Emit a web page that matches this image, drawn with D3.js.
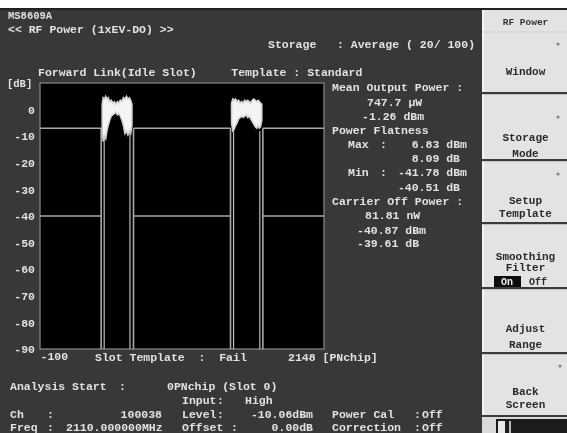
<!DOCTYPE html>
<html><head><meta charset="utf-8">
<script src="https://cdn.jsdelivr.net/npm/d3@7"></script>
<style>html,body{margin:0;padding:0;background:#fff;overflow:hidden} svg{display:block}</style>
</head><body>
<svg id="c" width="567" height="433"></svg>
<script>
// ---------------- data ----------------
const xDomain = [-100, 2148];            // PN chips
const yDomain = [-90, 10];               // dB
const yTickValues = [0, -10, -20, -30, -40, -50, -60, -70, -80, -90];
const yTickLabels = ["0", "-10", "-20", "-30", "-40", "-50", "-60", "-70", "-80", "-90"];
const xTickValues = [-100];
const xTickLabels = ["-100"];
const templateUpperLevel = -7;
const templateLowerLevel = -40;
const templateWindows = [[384, 640], [1408, 1664]];
const traceEdges = [[408, 612], [1432, 1640]];

const burst1Chips = [392,400,410,420,430,440,452,464,476,488,500,512,524,536,548,560,572,584,596,608,618,628];
const burst1Max   = [2,4.5,4,5,4,4.5,3,3.5,2.5,3,2,3,2.5,3.5,3,4.5,4,5,4,4.5,3.5,2];
const burst1Min   = [-8,-12,-10,-11,-8,-6,-4,-2.5,-2,-1.5,-1,-2,-1.5,-2.5,-4,-6,-9,-8,-9.5,-8,-9,-6];

const burst2Chips = [1416,1426,1436,1448,1460,1472,1484,1496,1508,1520,1532,1544,1556,1568,1580,1592,1604,1616,1626,1636,1646,1656];
const burst2Max   = [2.5,4,3.5,4,3,3.5,2.5,3,2.5,3.5,3,3.5,3,2.5,3.5,4,3.5,3,3.5,3,2.5,2];
const burst2Min   = [-5,-8,-7.5,-6,-5,-3.5,-3,-2.5,-3,-2.5,-2,-3,-2.5,-3.5,-4.5,-5.5,-6.5,-7,-6,-7,-6.5,-4];

const headerLines = ["MS8609A", "<< RF Power (1xEV-DO) >>"];
const storageText = "Storage   : Average ( 20/ 100)";
const titleText = "Forward Link(Idle Slot)     Template : Standard";
const resultLabel = ["Mean Output Power :", "Power Flatness", "Carrier Off Power :"];
const meanPower = ["747.7 µW", "-1.26 dBm"];
const flatMax = ["Max", ":", "6.83 dBm", "8.09 dB"];
const flatMin = ["Min", ":", "-41.78 dBm", "-40.51 dB"];
const carrierOff = ["81.81 nW", "-40.87 dBm", "-39.61 dB"];
const judgeText = "Slot Template  :  Fail";
const xUnitText = "2148 [PNchip]";
const softkeys = [["Window"], ["Storage", "Mode"], ["Setup", "Template"], ["Smoothing", "Filter"], ["Adjust", "Range"], ["Back", "Screen"]];

// ---------------- drawing ----------------
const svg = d3.select("#c");
const FONT = "'Liberation Mono','DejaVu Sans Mono',monospace";
const TXT = "#e2e2e2";
const root = svg.append("g").attr("filter", "url(#soft)");
const defs = svg.append("defs");
defs.append("filter").attr("id", "soft").attr("x", 0).attr("y", 0).attr("width", 1).attr("height", 1)
  .append("feGaussianBlur").attr("stdDeviation", 0.45);

// backgrounds
root.append("rect").attr("x", 0).attr("y", 0).attr("width", 567).attr("height", 433).attr("fill", "#ffffff");
root.append("rect").attr("x", 0).attr("y", 8).attr("width", 567).attr("height", 2).attr("fill", "#222");
root.append("rect").attr("x", 0).attr("y", 10).attr("width", 482).attr("height", 423).attr("fill", "#373737");

function t(g, x, y, s, o = {}) {
  return g.append("text").attr("x", x).attr("y", y).text(s)
    .attr("font-family", FONT).attr("font-weight", "bold")
    .attr("font-size", o.size || 11.5).attr("fill", o.fill || TXT)
    .attr("text-anchor", o.anchor || "start").attr("dominant-baseline", "middle")
    .attr("xml:space", "preserve").style("white-space", "pre");
}

// header
t(root, 8, 16, headerLines[0], {size: 10.5});
t(root, 8, 30, headerLines[1]);
t(root, 268, 45, storageText);
t(root, 38, 73, titleText);

// plot
const L = 40, R = 324, T = 83, B = 349;
const x = d3.scaleLinear().domain(xDomain).range([L, R]);
const y = d3.scaleLinear().domain(yDomain).range([B, T]);
const plot = root.append("g");
plot.append("rect").attr("x", L).attr("y", T).attr("width", R - L).attr("height", B - T)
  .attr("fill", "#000").attr("stroke", "#8a8a8a").attr("stroke-width", 1.2);
const clip = defs.append("clipPath").attr("id", "pc");
clip.append("rect").attr("x", L).attr("y", T).attr("width", R - L).attr("height", B - T);
const inner = plot.append("g").attr("clip-path", "url(#pc)");

// template lines
const segs = [];
const bounds = [xDomain[0]].concat(templateWindows.flat()).concat([xDomain[1]]);
for (let i = 0; i < bounds.length; i += 2) {
  segs.push([[bounds[i], templateUpperLevel], [bounds[i + 1], templateUpperLevel]]);
  segs.push([[bounds[i], templateLowerLevel], [bounds[i + 1], templateLowerLevel]]);
}
templateWindows.forEach(w => w.forEach(c => segs.push([[c, templateUpperLevel], [c, yDomain[0]]])));
const line = d3.line().x(d => x(d[0])).y(d => y(d[1]));
inner.selectAll("path.tpl").data(segs).join("path").attr("class", "tpl")
  .attr("d", line).attr("fill", "none").attr("stroke", "#a8a8a8").attr("stroke-width", 1.6);

// trace
const bursts = [
  {c: burst1Chips, mx: burst1Max, mn: burst1Min, e: traceEdges[0]},
  {c: burst2Chips, mx: burst2Max, mn: burst2Min, e: traceEdges[1]}
];
bursts.forEach(b => {
  b.e.forEach(c => {
    const pts = [[c, yDomain[0]], [c, -8]];
    inner.append("path").attr("d", line(pts)).attr("fill", "none").attr("stroke", "#bdbdbd").attr("stroke-width", 1.2);
  });
  const data = b.c.map((c, i) => ({c, hi: b.mx[i], lo: b.mn[i]}));
  const area = d3.area().x(d => x(d.c)).y0(d => y(d.lo)).y1(d => y(d.hi));
  inner.append("path").attr("d", area(data)).attr("fill", "#f4f4f4").attr("stroke", "#d0d0d0").attr("stroke-width", 1.5);
});

// y axis
const yAxis = d3.axisLeft(y).tickValues(yTickValues).tickSize(0).tickPadding(5)
  .tickFormat((d, i) => yTickLabels[i]);
const ya = root.append("g").attr("transform", `translate(${L},0)`).call(yAxis);
ya.select(".domain").remove();
ya.selectAll("text").attr("font-family", FONT).attr("font-weight", "bold").attr("font-size", 11.5).attr("fill", TXT);
t(root, 7, 84, "[dB]", {size: 10.5});

// x axis
const xAxis = d3.axisBottom(x).tickValues(xTickValues).tickSize(0).tickPadding(3)
  .tickFormat((d, i) => xTickLabels[i]);
const xa = root.append("g").attr("transform", `translate(0,${B})`).call(xAxis);
xa.select(".domain").remove();
xa.selectAll("text").attr("font-family", FONT).attr("font-weight", "bold").attr("font-size", 11.5)
  .attr("fill", TXT).attr("text-anchor", "start");
t(root, 95, 358, judgeText);
t(root, x(xDomain[1]) - 36, 358, xUnitText);

// results
t(root, 332, 88, resultLabel[0]);
t(root, 367, 103, meanPower[0]);
t(root, 362, 117, meanPower[1]);
t(root, 332, 131, resultLabel[1]);
t(root, 348, 145, flatMax[0]); t(root, 380, 145, flatMax[1]);
t(root, 467, 145, flatMax[2], {anchor: "end"});
t(root, 460, 159, flatMax[3], {anchor: "end"});
t(root, 348, 173, flatMin[0]); t(root, 380, 173, flatMin[1]);
t(root, 467, 173, flatMin[2], {anchor: "end"});
t(root, 460, 188, flatMin[3], {anchor: "end"});
t(root, 332, 202, resultLabel[2]);
t(root, 365, 216, carrierOff[0]);
t(root, 357, 231, carrierOff[1]);
t(root, 357, 244, carrierOff[2]);

// bottom parameter area
t(root, 10, 387, "Analysis Start");
t(root, 119, 387, ":");
t(root, 167, 387, "0PNchip (Slot 0)");
t(root, 182, 401, "Input");
t(root, 217, 401, ":");
t(root, 245, 401, "High");
t(root, 10, 415, "Ch");
t(root, 47, 415, ":");
t(root, 162, 415, "100038", {anchor: "end"});
t(root, 182, 415, "Level");
t(root, 217, 415, ":");
t(root, 313, 415, "-10.06dBm", {anchor: "end"});
t(root, 332, 415, "Power Cal");
t(root, 414, 415, ":");
t(root, 422, 415, "Off");
t(root, 10, 428, "Freq");
t(root, 47, 428, ":");
t(root, 66, 428, "2110.000000MHz");
t(root, 182, 428, "Offset");
t(root, 231, 428, ":");
t(root, 313, 428, "0.00dB", {anchor: "end"});
t(root, 332, 428, "Correction");
t(root, 414, 428, ":");
t(root, 422, 428, "Off");

// softkey panel
const P0 = 482, PW = 85, PC = P0 + PW / 2 + 1;
const panel = root.append("g");
panel.append("rect").attr("x", P0).attr("y", 10).attr("width", PW).attr("height", 423).attr("fill", "#e3e3e3");
panel.append("rect").attr("x", P0).attr("y", 10).attr("width", 2).attr("height", 423).attr("fill", "#f4f4f4");
t(panel, PC, 22, "RF Power", {size: 9.5, fill: "#333", anchor: "middle"});
panel.append("line").attr("x1", P0).attr("x2", 567).attr("y1", 32).attr("y2", 32).attr("stroke", "#cfcfcf");
const sepY = [93, 160, 223, 288, 353, 416];
sepY.forEach(v => panel.append("rect").attr("x", P0).attr("y", v - 1).attr("width", PW).attr("height", 2.2).attr("fill", "#3a3a3a"));
const labY = [[72], [138, 154], [201, 214], [257, 268], [329, 345], [392, 405]];
softkeys.forEach((k, i) => k.forEach((s, j) => t(panel, PC, labY[i][j], s, {size: 11, fill: "#2a2a2a", anchor: "middle"})));
[[558, 44], [558, 117], [558, 174], [560, 366]].forEach(p =>
  panel.append("circle").attr("cx", p[0]).attr("cy", p[1]).attr("r", 1.6).attr("fill", "#888"));
panel.append("rect").attr("x", 494).attr("y", 276).attr("width", 27).attr("height", 11).attr("fill", "#111");
t(panel, 507, 282, "On", {size: 10, fill: "#eee", anchor: "middle"});
t(panel, 538, 282, "Off", {size: 10, fill: "#2a2a2a", anchor: "middle"});
// page indicator
panel.append("rect").attr("x", P0).attr("y", 417).attr("width", PW).attr("height", 16).attr("fill", "#d9d9d9");
panel.append("rect").attr("x", 496).attr("y", 419).attr("width", 71).attr("height", 14).attr("fill", "#1a1a1a");
panel.append("rect").attr("x", 498).attr("y", 421).attr("width", 7).attr("height", 12).attr("fill", "#eaeaea");
panel.append("rect").attr("x", 509).attr("y", 421).attr("width", 2).attr("height", 12).attr("fill", "#bbb");
</script>
</body></html>
